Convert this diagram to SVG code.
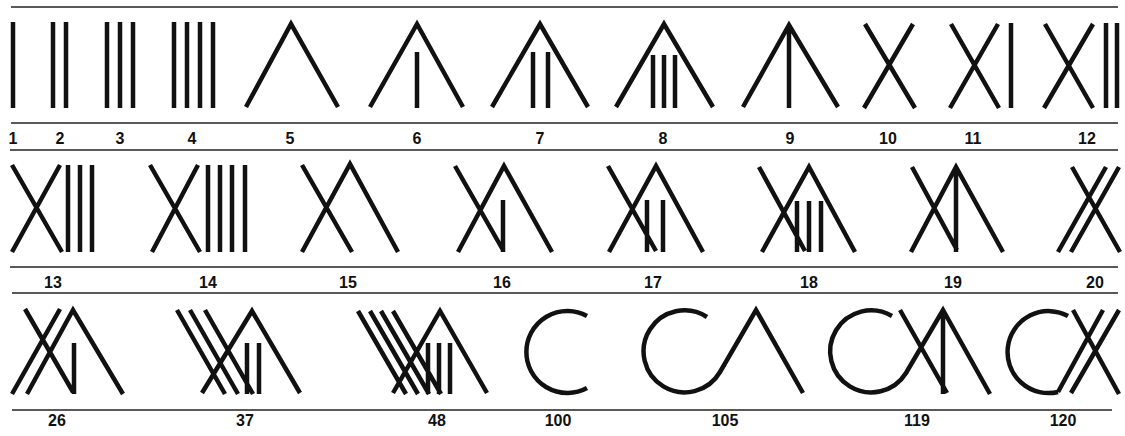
<svg xmlns="http://www.w3.org/2000/svg" width="1125" height="436" viewBox="0 0 1125 436">
<style>
.s{fill:none;stroke:#111;stroke-width:4.5;stroke-linecap:butt;stroke-linejoin:miter}
.r{stroke:#222;stroke-width:1.6}
.t{font-family:"Liberation Sans",Arial,sans-serif;font-weight:bold;font-size:16px;fill:#111;text-anchor:middle}
</style>
<rect width="1125" height="436" fill="#fff"/>
<g id="rules" class="r">
<line x1="11" y1="7" x2="1118" y2="7"/>
<line x1="11" y1="123" x2="1118" y2="123"/>
<line x1="10" y1="150" x2="1118" y2="150"/>
<line x1="10" y1="267" x2="1118" y2="267"/>
<line x1="12" y1="293" x2="1118" y2="293"/>
<line x1="12" y1="410" x2="1112" y2="410"/>
</g>
<!-- Row 1 -->
<g id="n1"><path class="s" d="M13,22V108"/><text class="t" x="13" y="144">1</text></g>
<g id="n2"><path class="s" d="M53,22V108M66,22V108"/><text class="t" x="60" y="144">2</text></g>
<g id="n3"><path class="s" d="M107,22V108M120,22V108M133,22V108"/><text class="t" x="120" y="144">3</text></g>
<g id="n4"><path class="s" d="M174,22V108M187,22V108M200,22V108M213,22V108"/><text class="t" x="192" y="144">4</text></g>
<g id="n5"><path class="s" d="M246,107L291,24L338,107"/><text class="t" x="290" y="144">5</text></g>
<g id="n6"><path class="s" d="M370,107L417,24L463,107M417,52V108"/><text class="t" x="417" y="144">6</text></g>
<g id="n7"><path class="s" d="M492,107L540,24L588,107M533,52V108M548,52V108"/><text class="t" x="540" y="144">7</text></g>
<g id="n8"><path class="s" d="M616,107L664,24L713,107M653,55V108M664,55V108M675,55V108"/><text class="t" x="663" y="144">8</text></g>
<g id="n9"><path class="s" d="M743,107L789,25L838,107M789,25V108"/><text class="t" x="790" y="144">9</text></g>
<g id="n10"><path class="s" d="M865,24L915,108M913,24L864,108"/><text class="t" x="888" y="144">10</text></g>
<g id="n11"><path class="s" d="M951,24L999,108M998,24L950,108M1011,23V108"/><text class="t" x="973" y="144">11</text></g>
<g id="n12"><path class="s" d="M1045,24L1093,108M1093,24L1044,108M1106,23V108M1117,23V108"/><text class="t" x="1087" y="144">12</text></g>
<!-- Row 2 -->
<g id="n13"><path class="s" d="M12,165L62,252M60,165L12,252M68,165V252M80,165V252M92,165V252"/><text class="t" x="53" y="288">13</text></g>
<g id="n14"><path class="s" d="M150,165L200,252M198,165L152,252M208,165V252M220,165V252M232,165V252M245,165V252"/><text class="t" x="208" y="288">14</text></g>
<g id="n15"><path class="s" d="M302,165L352,252M302,252L350,164L398,252"/><text class="t" x="348" y="288">15</text></g>
<g id="n16"><path class="s" d="M455,166L503,250M458,252L504,166L552,252M503,200V252"/><text class="t" x="502" y="288">16</text></g>
<g id="n17"><path class="s" d="M608,166L656,251M609,252L656,166L703,252M647,200V252M663,200V252"/><text class="t" x="653" y="288">17</text></g>
<g id="n18"><path class="s" d="M759,167L805,251M762,252L809,167L855,252M797,201V252M809,201V252M821,201V252"/><text class="t" x="809" y="288">18</text></g>
<g id="n19"><path class="s" d="M912,167L957,250M911,252L956,167L1003,252M956,167V252"/><text class="t" x="953" y="288">19</text></g>
<g id="n20"><path class="s" d="M1072,167L1120,252M1106,167L1058,252M1119,167L1071,252"/><text class="t" x="1095" y="288">20</text></g>
<!-- Row 3 -->
<g id="n26"><path class="s" d="M25,309L73,392M60,309L12,394M27,394L73,310L123,394M74,343V394"/><text class="t" x="57" y="426">26</text></g>
<g id="n37"><path class="s" d="M177,310L225,394M190,310L238,394M205,310L253,394M202,393L252,311L300,393M247,343V394M259,343V394"/><text class="t" x="245" y="426">37</text></g>
<g id="n48"><path class="s" d="M358,311L406,394M370,311L418,394M381,311L429,394M393,311L441,394M393,393L440,311L487,393M428,343V394M439,343V394M450,343V394"/><text class="t" x="437" y="426">48</text></g>
<g id="n100"><path class="s" d="M587,316A41,41 0 1 0 587,388"/><text class="t" x="558" y="426">100</text></g>
<g id="n105"><path class="s" d="M707,317A41,41 0 1 0 720,372L756,310L803,393"/><text class="t" x="725" y="426">105</text></g>
<g id="n119"><path class="s" d="M892,316A41,41 0 1 0 906,373L943,310L990,394M900,310L947,393M943,310V394"/><text class="t" x="917" y="426">119</text></g>
<g id="n120"><path class="s" d="M1068,316A41,41 0 1 0 1058,392M1058,392L1103,310M1071,393L1119,310M1073,310L1119,394"/><text class="t" x="1063" y="426">120</text></g>
</svg>
